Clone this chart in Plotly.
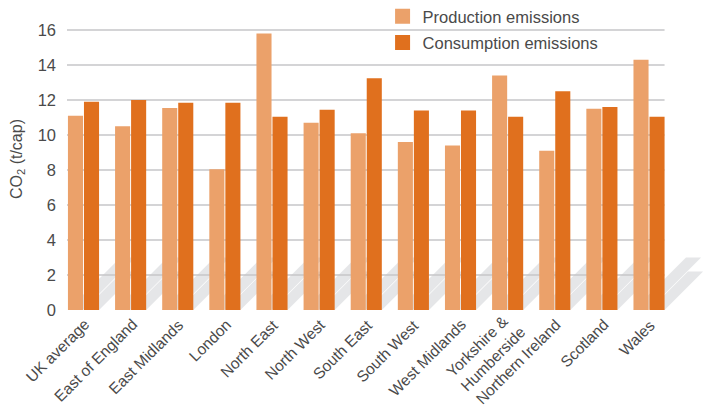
import plotly.graph_objects as go

categories = ["UK average", "East of England", "East Midlands", "London", "North East",
              "North West", "South East", "South West", "West Midlands",
              "Yorkshire &<br>Humberside", "Northern Ireland", "Scotland", "Wales"]
production = [11.1, 10.5, 11.55, 8.05, 15.8, 10.7, 10.1, 9.6, 9.4, 13.4, 9.1, 11.5, 14.3]
consumption = [11.9, 12.0, 11.85, 11.85, 11.05, 11.45, 13.25, 11.4, 11.4, 11.05, 12.5, 11.6, 11.05]
y_ticks = [0, 2, 4, 6, 8, 10, 12, 14, 16]

PROD_COLOR = "#EBA16A"
CONS_COLOR = "#E0701E"
SHADOW = "#E5E6E8"
GRID = "#C6C6C8"
TEXT = "#4a4a4a"
FONT = "Liberation Sans"

# the page body adds an 8px offset, so the figure is 8px smaller on each axis
W, H = 707, 408
ML, MR, MT, MB = 59, 0, 0, 106
PLOT_H = H - MT - MB
X_RANGE = [-0.35, 13.4]
px_per_unit = 17.5
Y_RANGE = [0, PLOT_H / px_per_unit]
px_per_cat = (W - ML - MR) / (X_RANGE[1] - X_RANGE[0])

BAR_W = 0.32
OFF_P = -0.33
OFF_C = 0.01

xs = list(range(len(categories)))

fig = go.Figure()
fig.add_trace(go.Bar(x=xs, y=production, width=BAR_W, offset=OFF_P,
                     marker=dict(color=PROD_COLOR, line=dict(width=0)),
                     showlegend=False, name="Production emissions"))
fig.add_trace(go.Bar(x=xs, y=consumption, width=BAR_W, offset=OFF_C,
                     marker=dict(color=CONS_COLOR, line=dict(width=0)),
                     showlegend=False, name="Consumption emissions"))

# legend-only entries
fig.add_trace(go.Scatter(x=[None], y=[None], mode="markers", name="Production emissions",
                         marker=dict(symbol="square", size=15, color=PROD_COLOR),
                         legendgroup="p"))
fig.add_trace(go.Scatter(x=[None], y=[None], mode="markers", name="Consumption emissions",
                         marker=dict(symbol="square", size=15, color=CONS_COLOR),
                         legendgroup="c"))

# decorative floor shadows (45 degree stripes behind each bar)
shapes = []
for i in xs:
    for off, dy in ((OFF_P, 3.0), (OFF_C, 2.2)):
        dx = dy * px_per_unit / px_per_cat
        x0 = i + off
        x1 = i + off + BAR_W
        path = f"M {x0},0 L {x1},0 L {x1 + dx},{dy} L {x0 + dx},{dy} Z"
        shapes.append(dict(type="path", path=path, xref="x", yref="y",
                           fillcolor=SHADOW, line=dict(width=0), layer="below"))

# horizontal gridlines ending at the last bar
grid_end = xs[-1] + OFF_C + BAR_W
for t in y_ticks[1:]:
    shapes.append(dict(type="line", xref="x", yref="y", x0=X_RANGE[0], x1=grid_end,
                       y0=t, y1=t, line=dict(color=GRID, width=1.5), layer="below"))

# category labels, rotated, text end just below each bar pair
annotations = []
for i, lab in zip(xs, categories):
    multi = "<br>" in lab
    annotations.append(dict(
        x=i, y=0, xref="x", yref="y", text=lab, showarrow=False,
        textangle=-45, xanchor="right", yanchor="top", align="left",
        xshift=24 if multi else 12, yshift=4 if multi else -3,
        font=dict(family=FONT, size=15.5, color=TEXT)))

fig.update_layout(
    width=W, height=H,
    margin=dict(l=ML, r=MR, t=MT, b=MB, autoexpand=False),
    paper_bgcolor="white", plot_bgcolor="white",
    barmode="overlay",
    shapes=shapes,
    annotations=annotations,
    font=dict(family=FONT, size=16, color=TEXT),
    legend=dict(x=0.487, y=1.03, xanchor="left", yanchor="top",
                bgcolor="rgba(0,0,0,0)", font=dict(family=FONT, size=16.5, color=TEXT),
                traceorder="grouped", tracegroupgap=2),
    xaxis=dict(range=X_RANGE, tickmode="array", tickvals=xs,
               showticklabels=False, showgrid=False, zeroline=False, showline=False,
               ticks="", automargin=False),
    yaxis=dict(range=Y_RANGE, tickmode="array", tickvals=y_ticks,
               showgrid=False, zeroline=False,
               showline=False, ticks="", ticklabelstandoff=10, automargin=False,
               tickfont=dict(family=FONT, size=16.5, color=TEXT),
               title=dict(text="CO<sub>2</sub> (t/cap)",
                          font=dict(family=FONT, size=16, color=TEXT),
                          standoff=14)),
)

fig.write_html("out.html")
